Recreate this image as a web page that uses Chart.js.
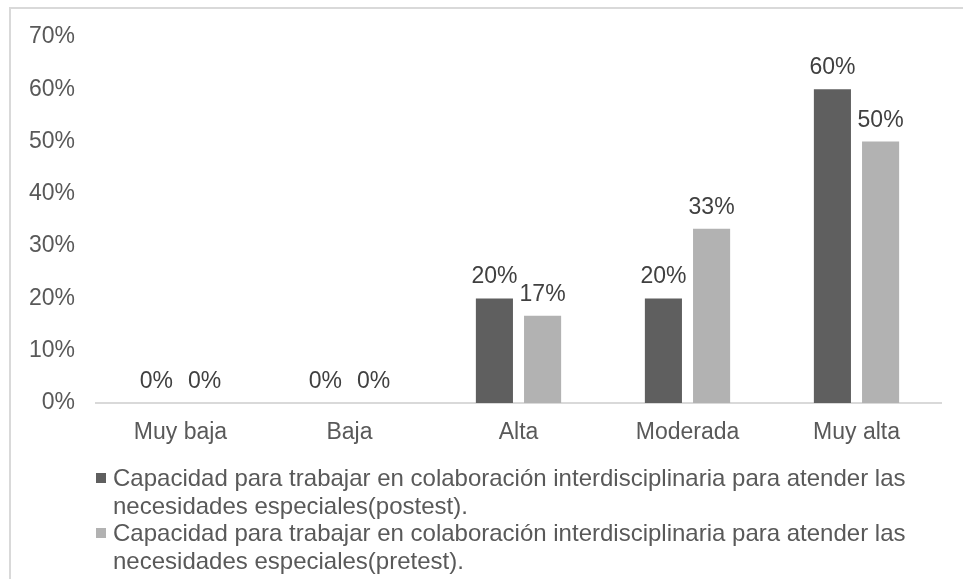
<!DOCTYPE html>
<html>
<head>
<meta charset="utf-8">
<script src="https://cdn.jsdelivr.net/npm/chart.js@4.4.1/dist/chart.umd.min.js"></script>
<style>
  body { margin: 0; background: #fff; font-family: "Liberation Sans", Arial, sans-serif; }
  #wrap { position: relative; width: 963px; height: 579px; overflow: hidden; }
  #frame { position: absolute; left: 9px; top: 7px; width: 1000px; height: 600px;
           border-top: 2px solid #d9d9d9; border-left: 2px solid #d9d9d9; }
  #chart { position: absolute; left: 0; top: 0; }
  #legend { position: absolute; left: 96px; top: 464px; width: 840px;
            font-size: 24px; line-height: 27.7px; color: #595959; }
  .item { position: relative; padding-left: 17px; }
  .box { position: absolute; left: 0; top: 9px; width: 10px; height: 10px; }
</style>
</head>
<body>
<div id="wrap">
  <div id="frame"></div>
  <canvas id="chart" width="963" height="579"></canvas>
  <div id="legend"></div>
</div>
<script>
// categories and values
const categories = ['Muy baja', 'Baja', 'Alta', 'Moderada', 'Muy alta'];
const postest = [0, 0, 20, 20, 60];
const pretest = [0, 0, 16.67, 33.33, 50];
const seriesNames = [
  'Capacidad para trabajar en colaboración interdisciplinaria para atender las necesidades especiales(postest).',
  'Capacidad para trabajar en colaboración interdisciplinaria para atender las necesidades especiales(pretest).'
];
const colors = ['#5f5f5f', '#b2b2b2'];

// small plugin for the value labels on top of the bars
const barLabels = {
  id: 'barLabels',
  afterDatasetsDraw(chart) {
    const ctx = chart.ctx;
    ctx.save();
    ctx.font = '23px "Liberation Sans", Arial, sans-serif';
    ctx.fillStyle = '#404040';
    ctx.textAlign = 'center';
    ctx.textBaseline = 'alphabetic';
    chart.data.datasets.forEach((ds, i) => {
      chart.getDatasetMeta(i).data.forEach((bar, j) => {
        ctx.fillText(Math.round(ds.data[j]) + '%', bar.x, bar.y - 15);
      });
    });
    ctx.restore();
  }
};

const chart = new Chart(document.getElementById('chart'), {
  type: 'bar',
  data: {
    labels: categories,
    datasets: [
      { label: seriesNames[0], data: postest, backgroundColor: colors[0] },
      { label: seriesNames[1], data: pretest, backgroundColor: colors[1] }
    ]
  },
  options: {
    responsive: false,
    animation: false,
    categoryPercentage: 0.57,
    barPercentage: 0.77,
    layout: { padding: { top: 37, right: 22, left: 0, bottom: 0 } },
    plugins: { legend: { display: false }, tooltip: { enabled: false } },
    scales: {
      x: {
        grid: { display: false, drawTicks: false },
        border: { display: true, color: '#d9d9d9', width: 2 },
        ticks: { color: '#595959', padding: 16, font: { family: '"Liberation Sans", Arial, sans-serif', size: 23 } },
        afterFit(scale) { scale.height = 176; }
      },
      y: {
        min: 0,
        max: 70,
        grid: { display: false, drawTicks: false },
        border: { display: false },
        ticks: {
          stepSize: 10,
          color: '#595959',
          padding: 21,
          font: { family: '"Liberation Sans", Arial, sans-serif', size: 23 },
          callback: v => v + '%'
        },
        afterFit(scale) { scale.width = 96; }
      }
    }
  },
  plugins: [barLabels]
});

// legend with wrapped text, built from the datasets
document.getElementById('legend').innerHTML = chart.data.datasets.map(ds =>
  `<div class="item"><span class="box" style="background:${ds.backgroundColor}"></span>${ds.label}</div>`
).join('');
</script>
</body>
</html>
